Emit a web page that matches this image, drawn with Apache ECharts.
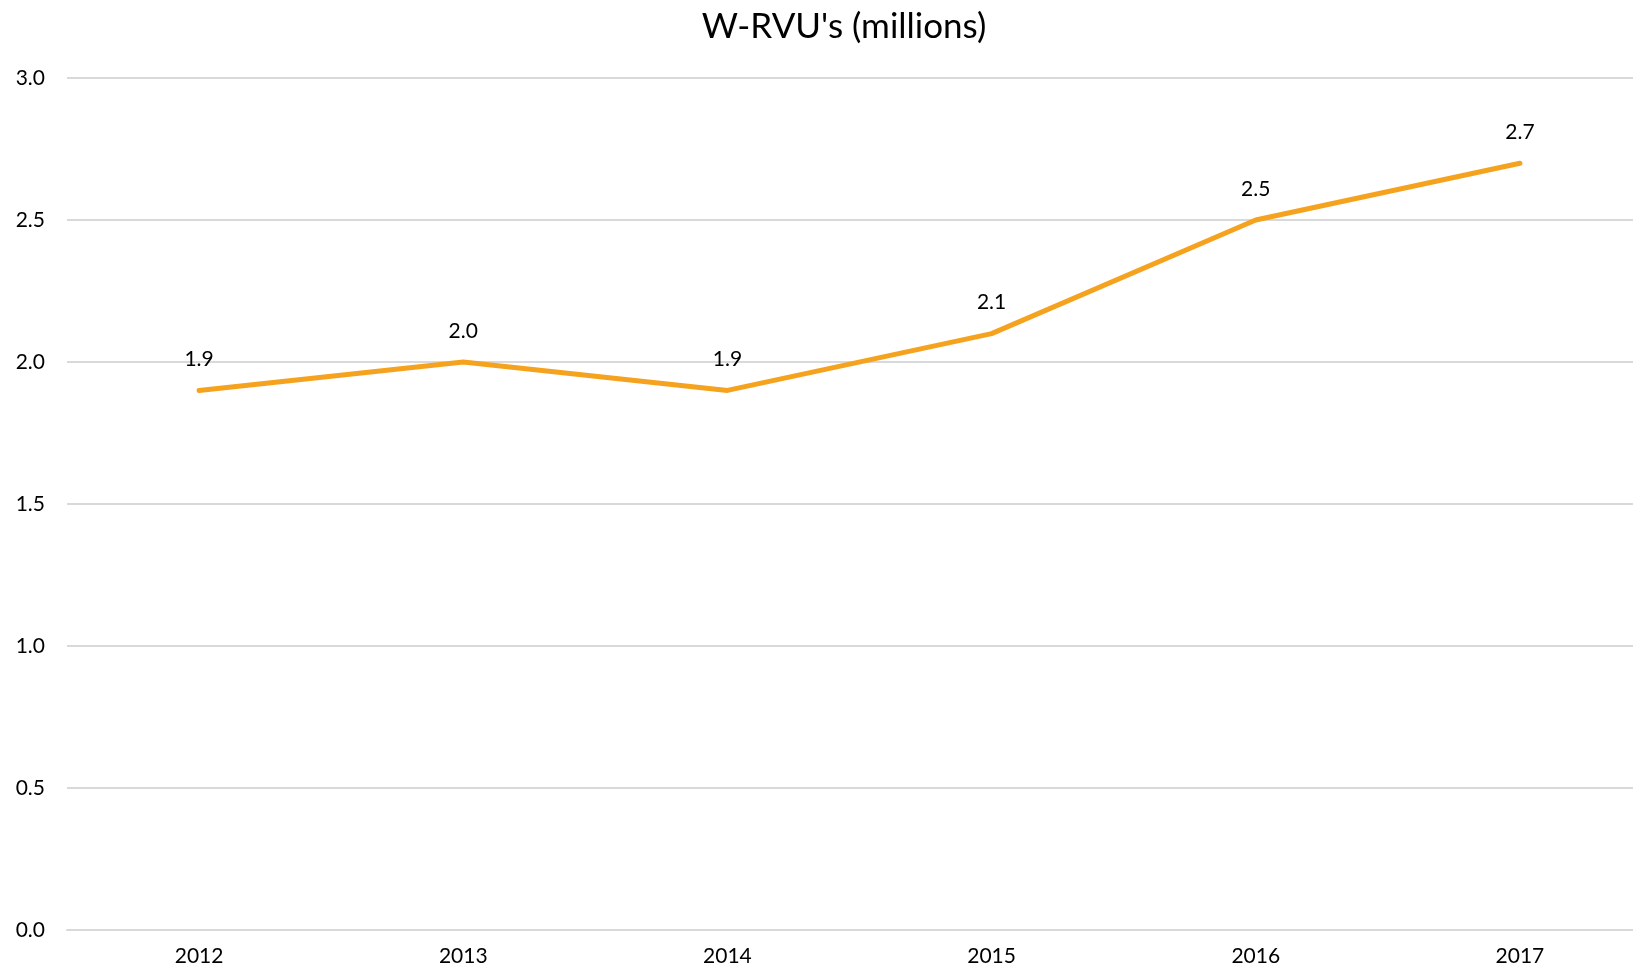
<!DOCTYPE html>
<html><head><meta charset="utf-8">
<script src="https://cdn.jsdelivr.net/npm/echarts@6/dist/echarts.min.js"></script>
<style>html,body{margin:0;padding:0;background:#fff;overflow:hidden}#c{width:1652px;height:970px}</style>
</head><body><div id="c"></div>
<script>
const categories = ['2012','2013','2014','2015','2016','2017'];
const values = [1.9, 2.0, 1.9, 2.1, 2.5, 2.7];
const titleText = "W-RVU's (millions)";
const chart = echarts.init(document.getElementById('c'));
const font = 'Lato, "Open Sans", sans-serif';
chart.setOption({
  animation: false,
  title: { text: titleText, left: 839, top: 4, textAlign: 'center',
    textStyle: { fontFamily: font, fontSize: 35, fontWeight: 'normal', color: '#000' } },
  grid: { left: 67, right: 0, top: 78, bottom: 40, containLabel: false },
  xAxis: { type: 'category', data: categories, boundaryGap: true,
    axisLine: { show: true, lineStyle: { color: '#d9d9d9', width: 2 } },
    axisTick: { show: false },
    axisLabel: { fontFamily: font, fontSize: 21, color: '#000', margin: 16 } },
  yAxis: { type: 'value', min: 0, max: 3, interval: 0.5,
    axisLine: { show: false }, axisTick: { show: false },
    splitLine: { lineStyle: { color: '#d9d9d9', width: 2 } },
    axisLabel: { fontFamily: font, fontSize: 21, color: '#000', margin: 22,
      formatter: v => v.toFixed(1) } },
  series: [{ type: 'line', data: values, symbol: 'circle', symbolSize: 1, showSymbol: true,
    lineStyle: { color: '#F5A31E', width: 5, cap: 'round', join: 'round' },
    itemStyle: { color: '#F5A31E' },
    label: { show: true, position: 'top', distance: 20, fontFamily: font, fontSize: 21, color: '#000',
      formatter: p => p.value.toFixed(1) } }]
});
</script></body></html>
